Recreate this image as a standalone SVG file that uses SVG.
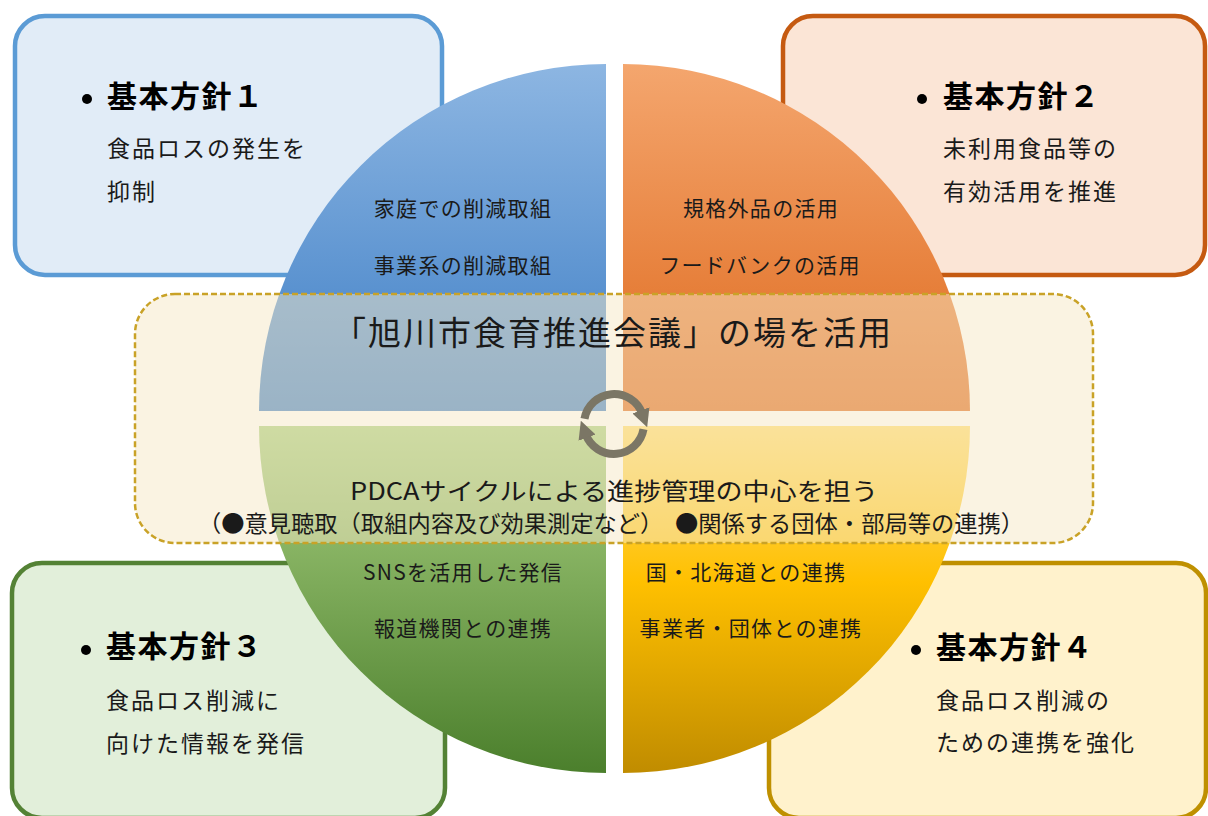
<svg xmlns="http://www.w3.org/2000/svg" width="1208" height="816" viewBox="0 0 1208 816">
<defs>
<style>
text{font-family:"Noto Sans CJK JP","Noto Sans",sans-serif;fill:#1a1a1a}
.title{font-size:30px;font-weight:bold;letter-spacing:1.5px;fill:#000}
.sub{font-size:23px;letter-spacing:2px}
.q{font-size:21px;letter-spacing:1.3px;text-anchor:middle}
.box{stroke-width:4.5}
.bullet{fill:#000}
.cyc{fill:none;stroke:#7b7665;stroke-width:8;marker-end:url(#ah)}
</style>
<linearGradient id="gBlue" x1="0" y1="0" x2="0" y2="1"><stop offset="0" stop-color="#8db6e2"/><stop offset="1" stop-color="#3f7fc6"/></linearGradient>
<linearGradient id="gOrange" x1="0" y1="0" x2="0" y2="1"><stop offset="0" stop-color="#f4a66e"/><stop offset="1" stop-color="#df6a1e"/></linearGradient>
<linearGradient id="gGreen" x1="0" y1="0" x2="0" y2="1"><stop offset="0" stop-color="#a8cf80"/><stop offset="1" stop-color="#4b7f2c"/></linearGradient>
<linearGradient id="gYellow" x1="0" y1="0" x2="0" y2="1"><stop offset="0" stop-color="#ffdc6e"/><stop offset="0.45" stop-color="#ffc000"/><stop offset="1" stop-color="#c08c00"/></linearGradient>
<marker id="ah" viewBox="0 0 10 10" refX="2" refY="5" markerWidth="18" markerHeight="18" markerUnits="userSpaceOnUse" orient="auto"><path d="M0,0 L10,5 L0,10 z" fill="#7b7665"/></marker>
</defs>
<rect width="1208" height="816" fill="#fff"/>

<g id="policy1">
<rect class="box" x="15" y="16" width="427" height="259" rx="30" fill="#e1ecf7" stroke="#5b9bd5"/>
<circle class="bullet" cx="87" cy="99" r="5"/>
<text class="title" x="107" y="107">基本方針１</text>
<text class="sub" x="107" y="157">食品ロスの発生を</text>
<text class="sub" x="107" y="200">抑制</text>
</g>
<g id="policy2">
<rect class="box" x="783" y="16" width="422" height="259" rx="30" fill="#fbe5d6" stroke="#c55a11"/>
<circle class="bullet" cx="922" cy="99" r="5"/>
<text class="title" x="943" y="107">基本方針２</text>
<text class="sub" x="943" y="157">未利用食品等の</text>
<text class="sub" x="943" y="200">有効活用を推進</text>
</g>
<g id="policy3">
<rect class="box" x="12" y="563" width="433" height="255" rx="30" fill="#e2efda" stroke="#548235"/>
<circle class="bullet" cx="86" cy="650" r="5"/>
<text class="title" x="106" y="657">基本方針３</text>
<text class="sub" x="106" y="709">食品ロス削減に</text>
<text class="sub" x="106" y="752">向けた情報を発信</text>
</g>
<g id="policy4">
<rect class="box" x="769" y="563" width="437" height="255" rx="30" fill="#fff2cc" stroke="#bf9000"/>
<circle class="bullet" cx="916" cy="650" r="5"/>
<text class="title" x="936" y="658">基本方針４</text>
<text class="sub" x="936" y="709">食品ロス削減の</text>
<text class="sub" x="936" y="751">ための連携を強化</text>
</g>

<g id="quadrants">
<path d="M606,411 H259 A347,347 0 0 1 606,64 Z" fill="url(#gBlue)"/>
<path d="M623,411 V64 A347,347 0 0 1 970,411 Z" fill="url(#gOrange)"/>
<path d="M606,426 H259 A347,347 0 0 0 606,773 Z" fill="url(#gGreen)"/>
<path d="M623,426 H970 A347,347 0 0 1 623,773 Z" fill="url(#gYellow)"/>
</g>

<g id="council">
<rect x="135" y="294" width="958" height="249" rx="40" fill="#f6e8c6" fill-opacity="0.5" stroke="#c9a227" stroke-width="2.5" stroke-dasharray="6 3"/>
<text x="613" y="345" text-anchor="middle" font-size="33" letter-spacing="2">「旭川市食育推進会議」の場を活用</text>
<text x="614" y="500" text-anchor="middle" font-size="24" textLength="528" lengthAdjust="spacingAndGlyphs">PDCAサイクルによる進捗管理の中心を担う</text>
<text x="611" y="532" text-anchor="middle" font-size="23" textLength="826" lengthAdjust="spacingAndGlyphs">（●意見聴取（取組内容及び効果測定など）　●関係する団体・部局等の連携）</text>
</g>

<g id="connectors">
<path class="cyc" d="M584.5,418.8 A30,30 0 0 1 642.2,413.7"/>
<path class="cyc" d="M643.5,429.2 A30,30 0 0 1 585.8,434.3"/>
</g>

<g id="q-texts">
<text class="q" x="463" y="216">家庭での削減取組</text>
<text class="q" x="463" y="273">事業系の削減取組</text>
<text class="q" x="761" y="216">規格外品の活用</text>
<text class="q" x="760" y="273">フードバンクの活用</text>
<text class="q" x="463" y="580">SNSを活用した発信</text>
<text class="q" x="463" y="636">報道機関との連携</text>
<text class="q" x="746" y="580">国・北海道との連携</text>
<text class="q" x="751" y="636">事業者・団体との連携</text>
</g>
</svg>
